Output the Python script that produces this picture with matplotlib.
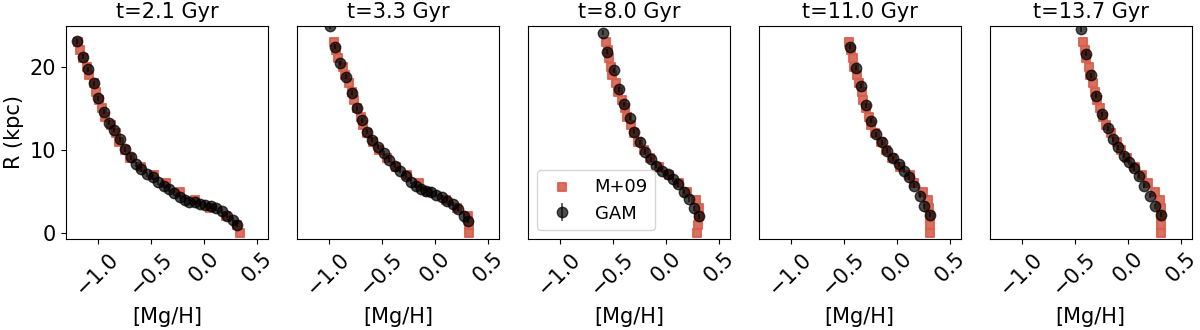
import numpy as np
import matplotlib as mpl
mpl.rc('font', size=15)
import matplotlib.pyplot as plt

times = ['2.1', '3.3', '8.0', '11.0', '13.7']

# M+09 model: [Mg/H] at R = 0, 1, ..., 23 kpc
m09_r = list(range(24))
m09_mgh = [
    [0.34, 0.31, 0.21, 0.056, -0.084, -0.225, -0.356, -0.475, -0.59, -0.70,
     -0.745, -0.80, -0.83, -0.88, -0.93, -0.96, -0.99, -1.015, -1.04, -1.08,
     -1.10, -1.14, -1.17, -1.19],
    [0.32, 0.32, 0.31, 0.21, 0.10, -0.07, -0.15, -0.26, -0.37, -0.45,
     -0.53, -0.58, -0.64, -0.68, -0.70, -0.73, -0.76, -0.78, -0.81, -0.85,
     -0.87, -0.91, -0.93, -0.95],
    [0.29, 0.30, 0.31, 0.31, 0.28, 0.20, 0.12, 0.025, -0.07, -0.15,
     -0.21, -0.26, -0.30, -0.33, -0.37, -0.39, -0.41, -0.45, -0.475, -0.51,
     -0.52, -0.54, -0.55, -0.56],
    [0.31, 0.31, 0.31, 0.30, 0.29, 0.25, 0.165, 0.12, 0.025, -0.05,
     -0.10, -0.15, -0.21, -0.24, -0.26, -0.29, -0.32, -0.33, -0.36, -0.375,
     -0.40, -0.41, -0.43, -0.45],
    [0.31, 0.31, 0.31, 0.31, 0.30, 0.26, 0.19, 0.13, 0.07, -0.006,
     -0.06, -0.10, -0.16, -0.21, -0.23, -0.26, -0.29, -0.31, -0.325, -0.36,
     -0.37, -0.39, -0.40, -0.42],
]

# GAM fit: ([Mg/H], R) pairs
gam_mgh = [
    [-1.194, -1.141, -1.094, -1.038, -0.997, -0.944, -0.897, -0.844, -0.794,
     -0.741, -0.688, -0.641, -0.591, -0.538, -0.484, -0.434, -0.381, -0.334,
     -0.284, -0.231, -0.184, -0.138, -0.084, -0.038, 0.009, 0.063, 0.113,
     0.166, 0.219, 0.269, 0.313],
    [-0.991, -0.938, -0.891, -0.834, -0.781, -0.734, -0.688, -0.641, -0.591,
     -0.538, -0.484, -0.434, -0.381, -0.328, -0.278, -0.225, -0.178, -0.131,
     -0.084, -0.038, 0.009, 0.063, 0.113, 0.166, 0.219, 0.269, 0.313],
    [-0.591, -0.553, -0.491, -0.438, -0.394, -0.341, -0.297, -0.241, -0.194,
     -0.141, -0.091, -0.038, 0.016, 0.063, 0.113, 0.166, 0.213, 0.259, 0.313],
    [-0.438, -0.388, -0.334, -0.294, -0.241, -0.194, -0.141, -0.091, -0.038,
     0.016, 0.063, 0.113, 0.159, 0.213, 0.259, 0.313],
    [-0.444, -0.397, -0.344, -0.297, -0.241, -0.188, -0.141, -0.091, -0.038,
     0.009, 0.056, 0.109, 0.156, 0.206, 0.259, 0.313],
]
gam_r = [
    [23.1, 21.2, 19.7, 18.0, 16.2, 14.6, 13.3, 12.4, 11.3, 10.1, 9.1, 8.3,
     7.7, 7.1, 6.7, 6.1, 5.7, 5.3, 4.8, 4.4, 4.0, 3.8, 3.7, 3.5, 3.4, 3.2,
     3.0, 2.6, 2.1, 1.6, 1.0],
    [24.9, 22.4, 20.4, 18.8, 16.9, 15.0, 13.6, 12.2, 11.2, 10.4, 9.6, 8.8,
     8.1, 7.5, 6.9, 6.2, 5.7, 5.3, 5.1, 4.9, 4.6, 4.3, 3.9, 3.5, 2.9, 2.1,
     1.5],
    [24.1, 21.8, 19.6, 17.3, 15.5, 13.9, 12.2, 10.9, 9.8, 8.9, 8.1, 7.5,
     7.1, 6.5, 5.9, 5.0, 4.1, 3.0, 2.0],
    [22.4, 19.9, 17.7, 15.4, 13.5, 11.9, 10.9, 9.9, 9.0, 8.3, 7.5, 6.7,
     5.7, 4.5, 3.2, 2.2],
    [24.5, 21.6, 19.0, 16.5, 14.3, 12.6, 11.3, 10.3, 9.3, 8.5, 7.8, 6.9,
     5.7, 4.5, 3.2, 2.2],
]
gam_err = 0.3

red = '#d6604d'

fig, axes = plt.subplots(1, 5, figsize=(12, 3.3), dpi=100, sharey=True)
fig.subplots_adjust(left=0.055, right=0.993, top=0.921, bottom=0.276,
                    wspace=0.144)

for i, ax in enumerate(axes):
    ax.scatter(m09_mgh[i], m09_r, marker='s', s=40, color=red, alpha=0.9,
               edgecolors=red, linewidths=1.5, label='M+09', zorder=2)
    ax.errorbar(gam_mgh[i], gam_r[i], yerr=gam_err, fmt='o', color='k',
                alpha=0.7, markersize=7.5, elinewidth=1.2, label='GAM',
                zorder=3)
    ax.set_title('t={} Gyr'.format(times[i]), fontsize=15)
    ax.set_xlim(-1.3, 0.6)
    ax.set_xticks([-1.0, -0.5, 0.0, 0.5])
    ax.tick_params(axis='x', labelrotation=45)
    ax.set_xlabel('[Mg/H]', labelpad=6)
    if i > 0:
        ax.tick_params(axis='y', left=False)

axes[0].set_ylim(-0.7, 24.9)
axes[0].set_yticks([0, 10, 20])
axes[0].set_ylabel('R (kpc)')
axes[2].legend(loc='lower left', fontsize=13)

fig.savefig('out.png')
